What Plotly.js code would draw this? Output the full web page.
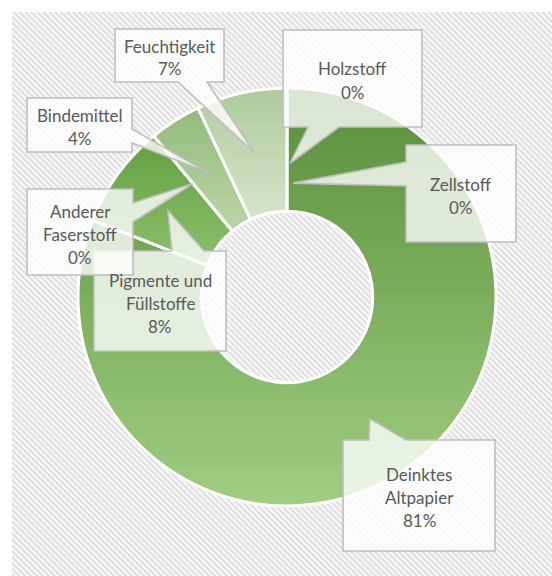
<!DOCTYPE html>
<html><head><meta charset="utf-8">
<script src="https://cdn.plot.ly/plotly-3.0.1.min.js"></script>
<style>html,body{margin:0;padding:0;background:#fff}</style>
</head><body><div id="chart" style="width:552px;height:576px"></div>
<script>
// ---- data ----
const labels = ['Holzstoff', 'Zellstoff', 'Deinktes Altpapier', 'Pigmente und Füllstoffe', 'Anderer Faserstoff', 'Bindemittel', 'Feuchtigkeit'];
const values = [0, 0, 81, 8, 0, 4, 7];

// ---- styles ----
const baseColors = ['#c9ddbd', '#6a9f48', '#7aae5a', '#74aa52', '#8cbd6c', '#a6c893', '#c2d8b4'];
const gradTop    = ['#c9ddbd', '#5f9a3c', '#5a8e39', '#62a040', '#80b660', '#93bb7b', '#aecb9c'];
const gradBottom = ['#d9e8d0', '#8cc06b', '#a0ce82', '#8cc06c', '#9ccc7c', '#bad5a9', '#d5e5cc'];

const W = 552, H = 576;
const domX = [78 / W, 496 / W];
const domY = [70 / H, 488 / H];
const hole = 0.41;

// label callout layout (pixels)
const boxes = [
  {x0: 283, y0: 30,  x1: 422, y1: 127, side: 'bottom', b0: 308, b1: 339, tipF: 0.39, tipDA: 1.3},
  {x0: 406, y0: 145, x1: 516, y1: 242, side: 'left',   b0: 162, b1: 186, tipF: 0.23, tipDA: 3},
  {x0: 343, y0: 440, x1: 495, y1: 551, side: 'top',    b0: 369, b1: 406},
  {x0: 94,  y0: 251, x1: 226, y1: 351, side: 'top',    b0: 172, b1: 204},
  {x0: 27,  y0: 189, x1: 133, y1: 275, side: 'right',  b0: 203, b1: 222},
  {x0: 27,  y0: 98,  x1: 132, y1: 152, side: 'right',  b0: 129, b1: 143},
  {x0: 115, y0: 29,  x1: 224, y1: 82,  side: 'bottom', b0: 178, b1: 207}
];
const lineGap = 23;
const textFont = {family: 'Lato, "Open Sans", sans-serif', size: 17, color: '#595959'};

// ---- geometry derived from domain + data ----
const cx = (domX[0] + domX[1]) / 2 * W;
const cy = (1 - (domY[0] + domY[1]) / 2) * H;
const R = Math.min((domX[1] - domX[0]) * W, (domY[1] - domY[0]) * H) / 2;
const rin = R * hole;
const total = values.reduce((a, b) => a + b, 0);

const X = px => px / W;
const Y = py => 1 - py / H;

function wrap(s, max) {
  const words = s.split(' ');
  const out = [];
  let cur = '';
  words.forEach(w => {
    if (!cur) cur = w;
    else if ((cur + ' ' + w).length <= max) cur += ' ' + w;
    else { out.push(cur); cur = w; }
  });
  if (cur) out.push(cur);
  return out;
}

const shapes = [];
const annotations = [];
let cum = 0;
values.forEach((v, i) => {
  const b = boxes[i];
  const mid = (cum + v / 2) / total * 360 + (b.tipDA || 0);
  cum += v;
  const f = b.tipF !== undefined ? b.tipF : 0.5;
  const r = rin + f * (R - rin);
  const a = mid * Math.PI / 180;
  const tx = cx + r * Math.sin(a), ty = cy - r * Math.cos(a);
  let pts;
  if (b.side === 'bottom') pts = [[b.x0,b.y0],[b.x1,b.y0],[b.x1,b.y1],[b.b1,b.y1],[tx,ty],[b.b0,b.y1],[b.x0,b.y1]];
  else if (b.side === 'top') pts = [[b.x0,b.y0],[b.b0,b.y0],[tx,ty],[b.b1,b.y0],[b.x1,b.y0],[b.x1,b.y1],[b.x0,b.y1]];
  else if (b.side === 'left') pts = [[b.x0,b.y0],[b.x1,b.y0],[b.x1,b.y1],[b.x0,b.y1],[b.x0,b.b1],[tx,ty],[b.x0,b.b0]];
  else pts = [[b.x0,b.y0],[b.x1,b.y0],[b.x1,b.b0],[tx,ty],[b.x1,b.b1],[b.x1,b.y1],[b.x0,b.y1]];
  const path = pts.map((p, k) => (k ? 'L' : 'M') + X(p[0]).toFixed(5) + ',' + Y(p[1]).toFixed(5)).join(' ') + ' Z';
  shapes.push({type: 'path', xref: 'paper', yref: 'paper', path: path, layer: 'above',
    fillcolor: 'rgba(255,255,255,0.78)', line: {color: '#bfbfbf', width: 1.6}});
  const lines = wrap(labels[i], 12).concat([Math.round(v / total * 100) + '%']);
  const bx = (b.x0 + b.x1) / 2, by = (b.y0 + b.y1) / 2 + 2;
  lines.forEach((t, k) => {
    annotations.push({xref: 'paper', yref: 'paper', x: X(bx), y: Y(by + (k - (lines.length - 1) / 2) * lineGap),
      text: t, showarrow: false, xanchor: 'center', yanchor: 'middle', font: textFont});
  });
});

const hatchSvg = '<svg xmlns="http://www.w3.org/2000/svg" width="540" height="564" viewBox="0 0 540 564" preserveAspectRatio="none">' +
  '<defs><pattern id="h" width="4.2" height="4.2" patternUnits="userSpaceOnUse" patternTransform="rotate(-45)">' +
  '<rect width="4.2" height="4.2" fill="#f9f9f9"/><rect width="2.1" height="4.2" fill="#dfdfdf"/></pattern></defs>' +
  '<rect width="540" height="564" fill="url(#h)"/></svg>';

const trace = {
  type: 'pie', labels: labels, values: values, hole: hole, sort: false,
  direction: 'clockwise', rotation: 0, textinfo: 'none', hoverinfo: 'label+percent',
  marker: {colors: baseColors, line: {color: '#ffffff', width: 3}},
  domain: {x: domX, y: domY}
};

const layout = {
  width: W, height: H, margin: {l: 0, r: 0, t: 0, b: 0},
  paper_bgcolor: '#ffffff', showlegend: false,
  images: [{source: 'data:image/svg+xml;charset=utf-8,' + encodeURIComponent(hatchSvg),
    xref: 'paper', yref: 'paper', x: 12 / W, y: 1 - 12 / H, sizex: 540 / W, sizey: 564 / H,
    xanchor: 'left', yanchor: 'top', sizing: 'stretch', layer: 'below'}],
  shapes: shapes, annotations: annotations
};

Plotly.newPlot('chart', [trace], layout, {displayModeBar: false, staticPlot: true}).then(gd => {
  const svg = gd.querySelector('.main-svg');
  const ns = 'http://www.w3.org/2000/svg';
  let defs = svg.querySelector('defs');
  if (!defs) { defs = document.createElementNS(ns, 'defs'); svg.insertBefore(defs, svg.firstChild); }
  gd.querySelectorAll('g.slice').forEach(g => {
    const d = g.__data__;
    if (!d || d.i === undefined) return;
    const i = d.i;
    const lg = document.createElementNS(ns, 'linearGradient');
    lg.setAttribute('id', 'sg' + i);
    lg.setAttribute('x1', '0'); lg.setAttribute('y1', '0'); lg.setAttribute('x2', '0'); lg.setAttribute('y2', '1');
    [[0, gradTop[i]], [1, gradBottom[i]]].forEach(([o, c]) => {
      const s = document.createElementNS(ns, 'stop');
      s.setAttribute('offset', o); s.setAttribute('stop-color', c);
      lg.appendChild(s);
    });
    defs.appendChild(lg);
    const p = g.querySelector('path.surface');
    if (p) p.style.fill = 'url(#sg' + i + ')';
  });
});
</script>
</body></html>
